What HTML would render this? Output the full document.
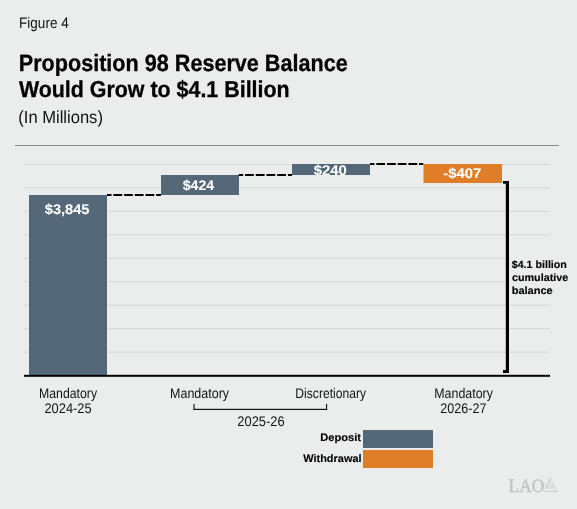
<!DOCTYPE html>
<html><head><meta charset="utf-8">
<style>
html,body{margin:0;padding:0;}
body{width:577px;height:509px;background:#EBEDEC;overflow:hidden;position:relative;font-family:"Liberation Sans",sans-serif;}
svg{position:absolute;left:0;top:0;will-change:transform;}
text{text-rendering:geometricPrecision;}
</style></head>
<body>
<svg width="577" height="509" viewBox="0 0 577 509">
  <!-- top rule -->
  <rect x="15" y="145" width="544" height="1" fill="#8C8D8C"/>
  <!-- gridlines -->
  <g fill="#D4D6D6">
    <rect x="24" y="164" width="526" height="1"/>
    <rect x="24" y="187.4" width="526" height="1"/>
    <rect x="24" y="210.9" width="526" height="1"/>
    <rect x="24" y="234.3" width="526" height="1"/>
    <rect x="24" y="257.8" width="526" height="1"/>
    <rect x="24" y="281.2" width="526" height="1"/>
    <rect x="24" y="304.7" width="526" height="1"/>
    <rect x="24" y="328.1" width="526" height="1"/>
    <rect x="24" y="351.6" width="526" height="1"/>
  </g>
  <!-- bars -->
  <rect x="29" y="195" width="78" height="180" fill="#54687A"/>
  <rect x="161" y="175" width="78" height="20" fill="#54687A"/>
  <rect x="292" y="164" width="78" height="11" fill="#54687A"/>
  <rect x="423.5" y="164" width="78.5" height="19" fill="#E07D27"/>
  <!-- dashed connectors -->
  <g stroke="#000" stroke-width="2" stroke-dasharray="8.8 1.9">
    <line x1="107" y1="195" x2="161" y2="195" stroke-dashoffset="4.3"/>
    <line x1="238.8" y1="175" x2="292" y2="175" stroke-dashoffset="4.4"/>
    <line x1="370" y1="164" x2="423.3" y2="164" stroke-dashoffset="4.4"/>
  </g>
  <!-- axis -->
  <rect x="24" y="374.8" width="526" height="2" fill="#000"/>
  <!-- right bracket -->
  <rect x="509" y="240" width="45" height="62" fill="#EBEDEC"/>
  <g fill="#000">
    <rect x="505.8" y="181" width="3.2" height="192"/>
    <rect x="503" y="181" width="6" height="2.7"/>
    <rect x="503" y="370" width="6" height="3"/>
  </g>
  <!-- 2025-26 bracket -->
  <g fill="#111">
    <rect x="193.5" y="403.8" width="1.1" height="6.2"/>
    <rect x="193.5" y="408.8" width="133.6" height="1.2"/>
    <rect x="326" y="403.8" width="1.1" height="6.2"/>
  </g>
  <!-- legend boxes -->
  <rect x="363" y="430" width="70" height="18" fill="#54687A"/>
  <rect x="363" y="450" width="70" height="18" fill="#E07D27"/>
  <!-- LAO logo -->
  <g fill="none" stroke="#C6C7C7" stroke-linecap="round">
    <path d="M549 481.3 Q548.4 479.4 549.6 478.6 Q550.9 478.1 551.1 479.4 Q550.4 480 549.9 480.3" stroke-width="0.9"/>
    <path d="M546 488.4 Q546.6 482.6 550 481.8 Q553.6 482.4 554.6 488" stroke-width="1"/>
    <path d="M545.6 484.9 L552.6 484.9 M545.2 486.4 L553.4 486.4 M545 487.9 L554.2 487.9" stroke-width="0.8" stroke="#D2D3D3"/>
    <path d="M543.6 491.3 L557.6 491.3" stroke-width="1"/>
    <path d="M554.4 488.2 L555.6 489.4 L556.4 490.6" stroke-width="1"/>
  </g>
  <text x="19.09" y="27.8" font-family="Liberation Sans" font-size="15.2" fill="#111" textLength="49.61" lengthAdjust="spacingAndGlyphs">Figure 4</text>
  <text x="18.75" y="71.0" font-family="Liberation Sans" font-size="23.5" font-weight="bold" fill="#000" stroke="#000" stroke-width="0.3" textLength="328.98" lengthAdjust="spacingAndGlyphs">Proposition 98 Reserve Balance</text>
  <text x="18.88" y="96.6" font-family="Liberation Sans" font-size="23.0" font-weight="bold" fill="#000" stroke="#000" stroke-width="0.3" textLength="270.75" lengthAdjust="spacingAndGlyphs">Would Grow to $4.1 Billion</text>
  <text x="18.27" y="123" font-family="Liberation Sans" font-size="17.5" fill="#111" textLength="84.65" lengthAdjust="spacingAndGlyphs">(In Millions)</text>
  <text x="44.77" y="213.8" font-family="Liberation Sans" font-size="14" font-weight="bold" fill="#fff" stroke="#fff" stroke-width="0.08" textLength="44.74" lengthAdjust="spacingAndGlyphs">$3,845</text>
  <text x="182.71" y="190" font-family="Liberation Sans" font-size="14" font-weight="bold" fill="#fff" stroke="#fff" stroke-width="0.08" textLength="31.46" lengthAdjust="spacingAndGlyphs">$424</text>
  <text x="313.70" y="175" font-family="Liberation Sans" font-size="14" font-weight="bold" fill="#fff" stroke="#fff" stroke-width="0.08" textLength="33.11" lengthAdjust="spacingAndGlyphs">$240</text>
  <text x="443.32" y="178" font-family="Liberation Sans" font-size="14" font-weight="bold" fill="#fff" stroke="#fff" stroke-width="0.08" textLength="37.83" lengthAdjust="spacingAndGlyphs">-$407</text>
  <text x="39.04" y="397.7" font-family="Liberation Sans" font-size="14" fill="#111" textLength="58.03" lengthAdjust="spacingAndGlyphs">Mandatory</text>
  <text x="44.40" y="412.5" font-family="Liberation Sans" font-size="14" fill="#111" textLength="47.29" lengthAdjust="spacingAndGlyphs">2024-25</text>
  <text x="170.04" y="397.7" font-family="Liberation Sans" font-size="14" fill="#111" textLength="59.04" lengthAdjust="spacingAndGlyphs">Mandatory</text>
  <text x="295.36" y="397.8" font-family="Liberation Sans" font-size="14" fill="#111" textLength="70.67" lengthAdjust="spacingAndGlyphs">Discretionary</text>
  <text x="237.35" y="425.7" font-family="Liberation Sans" font-size="14" fill="#111" textLength="47.21" lengthAdjust="spacingAndGlyphs">2025-26</text>
  <text x="434.28" y="397.7" font-family="Liberation Sans" font-size="14" fill="#111" textLength="58.64" lengthAdjust="spacingAndGlyphs">Mandatory</text>
  <text x="440.37" y="412.5" font-family="Liberation Sans" font-size="14" fill="#111" textLength="46.17" lengthAdjust="spacingAndGlyphs">2026-27</text>
  <text x="511.76" y="267.85" font-family="Liberation Sans" font-size="10.5" font-weight="bold" fill="#000" stroke="#000" stroke-width="0.15" textLength="55.10" lengthAdjust="spacingAndGlyphs">$4.1 billion</text>
  <text x="511.98" y="281.25" font-family="Liberation Sans" font-size="10.5" font-weight="bold" fill="#000" stroke="#000" stroke-width="0.15" textLength="56.29" lengthAdjust="spacingAndGlyphs">cumulative</text>
  <text x="511.67" y="293.85" font-family="Liberation Sans" font-size="10.5" font-weight="bold" fill="#000" stroke="#000" stroke-width="0.15" textLength="41.10" lengthAdjust="spacingAndGlyphs">balance</text>
  <text x="320.20" y="441.25" font-family="Liberation Sans" font-size="10.8" font-weight="bold" fill="#000" stroke="#000" stroke-width="0.15" textLength="40.83" lengthAdjust="spacingAndGlyphs">Deposit</text>
  <text x="303.29" y="462.25" font-family="Liberation Sans" font-size="10.8" font-weight="bold" fill="#000" stroke="#000" stroke-width="0.15" textLength="58.24" lengthAdjust="spacingAndGlyphs">Withdrawal</text>
  <text x="508.60" y="491.7" font-family="Liberation Serif" font-size="19" fill="#C4C5C5" stroke="#C4C5C5" stroke-width="0.5" textLength="35.61" lengthAdjust="spacingAndGlyphs">LAO</text>
</svg>
</body></html>
